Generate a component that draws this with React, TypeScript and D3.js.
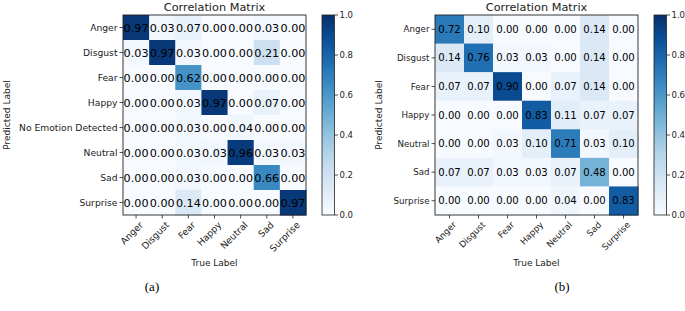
import React from "react";
import * as d3 from "d3";

const colsA = ["Anger", "Disgust", "Fear", "Happy", "Neutral", "Sad", "Surprise"];
const rowsA = ["Anger", "Disgust", "Fear", "Happy", "No Emotion Detected", "Neutral", "Sad", "Surprise"];
const valuesA = [
  [0.97, 0.03, 0.07, 0.0, 0.0, 0.03, 0.0],
  [0.03, 0.97, 0.03, 0.0, 0.0, 0.21, 0.0],
  [0.0, 0.0, 0.62, 0.0, 0.0, 0.0, 0.0],
  [0.0, 0.0, 0.03, 0.97, 0.0, 0.07, 0.0],
  [0.0, 0.0, 0.03, 0.0, 0.04, 0.0, 0.0],
  [0.0, 0.0, 0.03, 0.03, 0.96, 0.03, 0.03],
  [0.0, 0.0, 0.03, 0.0, 0.0, 0.66, 0.0],
  [0.0, 0.0, 0.14, 0.0, 0.0, 0.0, 0.97],
];

const colsB = ["Anger", "Disgust", "Fear", "Happy", "Neutral", "Sad", "Surprise"];
const rowsB = ["Anger", "Disgust", "Fear", "Happy", "Neutral", "Sad", "Surprise"];
const valuesB = [
  [0.72, 0.1, 0.0, 0.0, 0.0, 0.14, 0.0],
  [0.14, 0.76, 0.03, 0.03, 0.0, 0.14, 0.0],
  [0.07, 0.07, 0.9, 0.0, 0.07, 0.14, 0.0],
  [0.0, 0.0, 0.0, 0.83, 0.11, 0.07, 0.07],
  [0.0, 0.0, 0.03, 0.1, 0.71, 0.03, 0.1],
  [0.07, 0.07, 0.03, 0.03, 0.07, 0.48, 0.0],
  [0.0, 0.0, 0.0, 0.0, 0.04, 0.0, 0.83],
];

const colorTicks = [0, 0.2, 0.4, 0.6, 0.8, 1.0];
const titleText = "Correlation Matrix";
const xTitle = "True Label";
const yTitle = "Predicted Label";
const captions = ["(a)", "(b)"];

const FONT = "DejaVu Sans, sans-serif";
const color = d3.scaleSequential(d3.interpolateBlues).domain([0, 1]);

type PanelProps = {
  rows: string[];
  cols: string[];
  values: number[][];
  x0: number;
  x1: number;
  y0: number;
  y1: number;
  cbX: number;
  yLabelX: number;
  cellFont: number;
  tickFont: number;
  caption: string;
  captionX: number;
  gid: string;
};

function Panel(p: PanelProps) {
  const x = d3.scaleBand().domain(p.cols).range([p.x0, p.x1]);
  const y = d3.scaleBand().domain(p.rows).range([p.y0, p.y1]);
  const cbW = 12.5;
  const cbY = d3.scaleLinear().domain([0, 1]).range([p.y1, p.y0]);
  const stops = d3.range(0, 1.0001, 0.05);
  const cx = (p.x0 + p.x1) / 2;
  const cy = (p.y0 + p.y1) / 2;
  return (
    <g>
      <defs>
        <linearGradient id={p.gid} x1="0" y1="1" x2="0" y2="0">
          {stops.map((s) => (
            <stop key={s} offset={`${s * 100}%`} stopColor={color(s)} />
          ))}
        </linearGradient>
      </defs>
      {p.values.map((row, i) =>
        row.map((v, j) => (
          <rect
            key={`${i}-${j}`}
            x={x(p.cols[j])!}
            y={y(p.rows[i])!}
            width={x.bandwidth() + 0.5}
            height={y.bandwidth() + 0.5}
            fill={color(v)}
          />
        ))
      )}
      {p.values.map((row, i) =>
        row.map((v, j) => (
          <text
            key={`t${i}-${j}`}
            x={x(p.cols[j])! + x.bandwidth() / 2}
            y={y(p.rows[i])! + y.bandwidth() / 2}
            dy="0.36em"
            textAnchor="middle"
            fontSize={p.cellFont}
            fill="#000"
          >
            {v.toFixed(2)}
          </text>
        ))
      )}
      <rect x={p.x0} y={p.y0} width={p.x1 - p.x0} height={p.y1 - p.y0} fill="none" stroke="#222" strokeWidth={0.9} />
      {p.rows.map((r) => {
        const yy = y(r)! + y.bandwidth() / 2;
        return (
          <g key={r}>
            <line x1={p.x0 - 3.5} x2={p.x0} y1={yy} y2={yy} stroke="#222" strokeWidth={0.8} />
            <text x={p.x0 - 5.5} y={yy} dy="0.36em" textAnchor="end" fontSize={p.tickFont} fill="#222">
              {r}
            </text>
          </g>
        );
      })}
      {p.cols.map((c) => {
        const xx = x(c)! + x.bandwidth() / 2;
        return (
          <g key={c}>
            <line x1={xx} x2={xx} y1={p.y1} y2={p.y1 + 3.5} stroke="#222" strokeWidth={0.8} />
            <text
              transform={`translate(${xx + 3},${p.y1 + 6}) rotate(-45)`}
              textAnchor="end"
              dy="0.7em"
              fontSize={p.tickFont}
              fill="#222"
            >
              {c}
            </text>
          </g>
        );
      })}
      <text x={cx} y={p.y0 - 4} textAnchor="middle" fontSize={11.3} fill="#222">
        {titleText}
      </text>
      <text x={cx} y={p.y1 + 51} textAnchor="middle" fontSize={9} fill="#222">
        {xTitle}
      </text>
      <text
        transform={`translate(${p.yLabelX},${cy}) rotate(-90)`}
        textAnchor="middle"
        dy="0.36em"
        fontSize={9}
        fill="#222"
      >
        {yTitle}
      </text>
      <rect x={p.cbX} y={p.y0} width={cbW} height={p.y1 - p.y0} fill={`url(#${p.gid})`} stroke="#222" strokeWidth={0.8} />
      {colorTicks.map((t) => (
        <g key={t}>
          <line x1={p.cbX + cbW} x2={p.cbX + cbW + 3.5} y1={cbY(t)} y2={cbY(t)} stroke="#222" strokeWidth={0.8} />
          <text x={p.cbX + cbW + 5} y={cbY(t)} dy="0.36em" fontSize={8.5} fill="#222">
            {t.toFixed(1)}
          </text>
        </g>
      ))}
      <text x={p.captionX} y={291} textAnchor="middle" fontSize={13} fontFamily="Liberation Serif, serif" fill="#000">
        {p.caption}
      </text>
    </g>
  );
}

export default function App() {
  return (
    <svg
      width={685}
      height={311}
      style={{ position: "absolute", left: 0, top: 0, background: "#fff" }}
      fontFamily={FONT}
    >
      <rect width={685} height={311} fill="#fff" />
      <Panel
        rows={rowsA}
        cols={colsA}
        values={valuesA}
        x0={123}
        x1={306}
        y0={15}
        y1={215}
        cbX={322}
        yLabelX={7}
        cellFont={11.2}
        tickFont={9.2}
        caption={captions[0]}
        captionX={152}
        gid="gA"
      />
      <Panel
        rows={rowsB}
        cols={colsB}
        values={valuesB}
        x0={435}
        x1={638}
        y0={15}
        y1={215}
        cbX={654}
        yLabelX={379}
        cellFont={10.1}
        tickFont={8.7}
        caption={captions[1]}
        captionX={562}
        gid="gB"
      />
    </svg>
  );
}
